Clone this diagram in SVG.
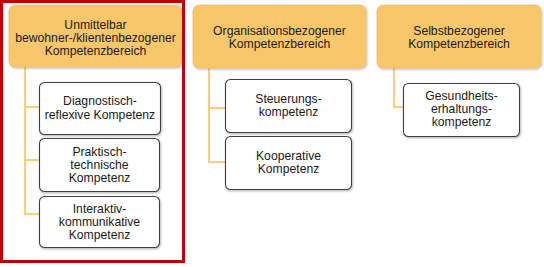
<svg xmlns="http://www.w3.org/2000/svg" width="544" height="267" viewBox="0 0 544 267">
<defs>
<filter id="sh" x="-10%" y="-10%" width="120%" height="130%">
<feDropShadow dx="0.8" dy="1.2" stdDeviation="0.8" flood-color="#000" flood-opacity="0.3"/>
</filter>
<style>
.cat{fill:#f8c76c;stroke:#e9b95f;stroke-width:0.6;filter:url(#sh)}
.sub{fill:#ffffff;stroke:#404040;stroke-width:1.1;filter:url(#sh)}
text{font-family:"Liberation Sans",Arial,sans-serif;font-size:12.2px;fill:#1a1a1a;text-anchor:middle}
.con{fill:none;stroke:#fbcf7c;stroke-width:2}
</style>
</defs>
<rect width="544" height="267" fill="#ffffff"/>
<g id="connectors">
<path class="con" d="M25,67 V215 M24,107 H39 M24,160 H39 M24,214 H39"/>
<path class="con" d="M209,68 V163 M208,108 H225 M208,162 H225"/>
<path class="con" d="M394,68 V108 M393,107 H403"/>
</g>
<g id="cat1">
<rect class="cat" x="9" y="5" width="173" height="62" rx="6"/>
<text x="95.5" y="28.5">Unmittelbar</text>
<text x="95.5" y="41.5">bewohner-/klientenbezogener</text>
<text x="95.5" y="54.5">Kompetenzbereich</text>
</g>
<g id="cat2">
<rect class="cat" x="193" y="5" width="173" height="63" rx="6"/>
<text x="279.5" y="34.5">Organisationsbezogener</text>
<text x="279.5" y="47.5">Kompetenzbereich</text>
</g>
<g id="cat3">
<rect class="cat" x="377" y="5" width="164" height="63" rx="6"/>
<text x="459" y="34.5">Selbstbezogener</text>
<text x="459" y="47.5">Kompetenzbereich</text>
</g>
<g id="sub1">
<rect class="sub" x="39.5" y="82.5" width="121" height="52" rx="5"/>
<text x="100" y="104.5">Diagnostisch-</text>
<text x="100" y="118.5">reflexive Kompetenz</text>
</g>
<g id="sub2">
<rect class="sub" x="39.5" y="138.5" width="120" height="53" rx="5"/>
<text x="99.5" y="156">Praktisch-</text>
<text x="99.5" y="169">technische</text>
<text x="99.5" y="182">Kompetenz</text>
</g>
<g id="sub3">
<rect class="sub" x="39.5" y="196.5" width="120" height="51" rx="5"/>
<text x="99.5" y="213">Interaktiv-</text>
<text x="99.5" y="226">kommunikative</text>
<text x="99.5" y="239">Kompetenz</text>
</g>
<g id="sub4">
<rect class="sub" x="225.5" y="79.5" width="126" height="53" rx="5"/>
<text x="288.5" y="103">Steuerungs-</text>
<text x="288.5" y="116">kompetenz</text>
</g>
<g id="sub5">
<rect class="sub" x="225.5" y="136.5" width="126" height="53" rx="5"/>
<text x="288.5" y="160">Kooperative</text>
<text x="288.5" y="173">Kompetenz</text>
</g>
<g id="sub6">
<rect class="sub" x="403.5" y="83.5" width="116" height="53" rx="5"/>
<text x="461.5" y="100">Gesundheits-</text>
<text x="461.5" y="113">erhaltungs-</text>
<text x="461.5" y="126">kompetenz</text>
</g>
<g id="highlight">
<rect x="1.5" y="1.5" width="182" height="260" fill="none" stroke="#c00000" stroke-width="3"/>
</g>
</svg>
